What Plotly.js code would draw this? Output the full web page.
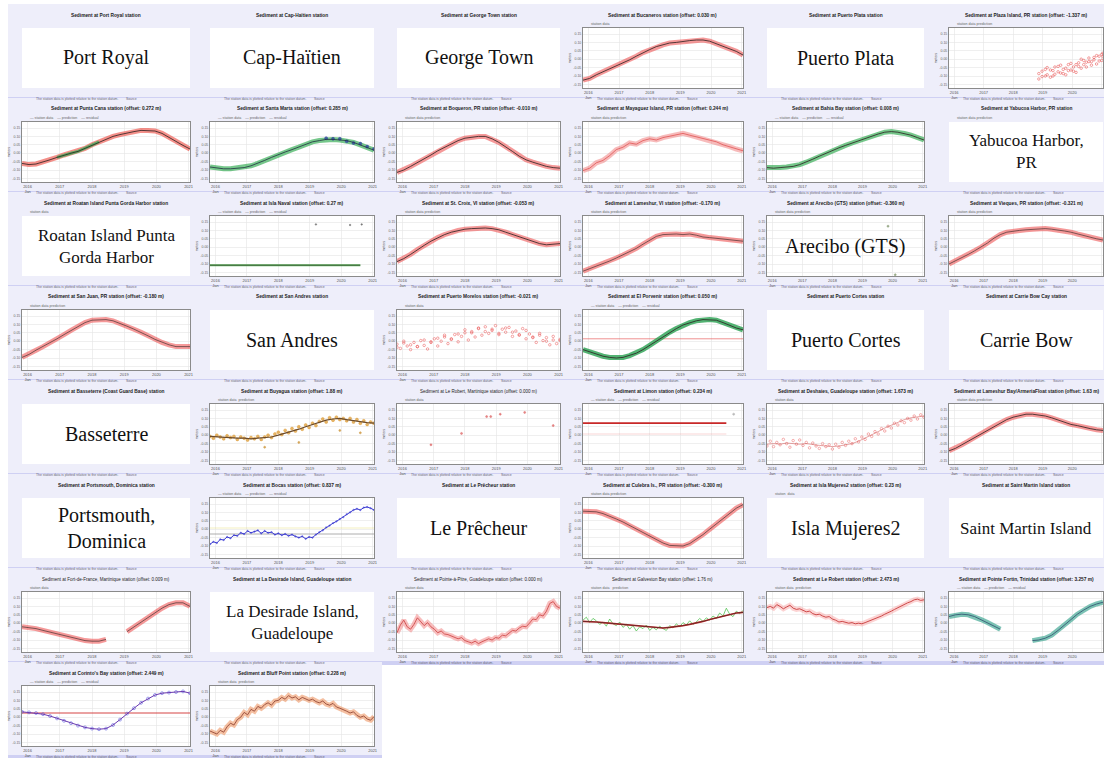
<!DOCTYPE html>
<html><head><meta charset="utf-8">
<script src="https://cdn.plot.ly/plotly-3.0.1.min.js"></script>
<style>html,body{margin:0;padding:0;background:#fff}#chart{width:1104px;height:758px}</style>
</head><body><div id="chart"></div>
<script>
const t25 = [0,1,2,3,4,5,6,7,8,9,10,11,12,13,14,15,16,17,18,19,20,21,22,23,24];
const t49 = [0,0.5,1,1.5,2,2.5,3,3.5,4,4.5,5,5.5,6,6.5,7,7.5,8,8.5,9,9.5,10,10.5,11,11.5,12,12.5,13,13.5,14,14.5,15,15.5,16,16.5,17,17.5,18,18.5,19,19.5,20,20.5,21,21.5,22,22.5,23,23.5,24];
const xTickLabels = ['2016<br>Jan','2017','2018','2019','2020','2021'];
const yTickLabels = ['-0.15','-0.10','-0.05','0.00','0.05','0.10','0.15'];

const bucanerosY = [1.3,1.6,2.2,2.7,3.1,3.7,4.2,4.7,5.3,5.9,6.4,6.9,7.2,7.5,7.6,7.8,7.9,8.0,8.0,7.8,7.4,7.0,6.6,6.1,5.5];
const plazaX = [14,14.5,15,15.3,15.8,16.2,16.5,17,17.4,17.8,18.2,18.6,19,19.4,19.8,20.2,20.6,21,21.4,21.8,22.2,22.6,23,23.4,23.8,24];
const plazaY = [1.5,2.8,2.0,3.4,1.8,2.9,2.3,3.6,2.5,3.1,2.2,3.9,3.0,3.5,2.6,4.2,3.3,4.6,3.5,4.4,3.8,5.1,4.0,5.3,4.6,5.8];
const plazaY2 = [2.4,1.9,3.1,2.2,3.0,2.0,3.5,2.7,3.8,2.4,3.3,2.9,4.1,2.8,3.9,3.6,4.8,3.9,4.3,5.0,4.4,4.7,5.4,4.5,5.6,5.2];

const puntaCanaY = [3.1,2.9,3.0,3.3,3.7,4.1,4.5,4.8,5.1,5.6,6.2,6.7,7.2,7.6,7.9,8.2,8.4,8.6,8.6,8.5,8.1,7.4,6.8,6.1,5.5];
const puntaGreenX = [5,6,7,8,9,10,11];
const puntaGreenY = [4.1,4.5,4.8,5.1,5.6,6.2,6.7];
const santaMartaY = [2.5,2.3,2.2,2.2,2.3,2.4,2.7,3.1,3.6,4.1,4.6,5.0,5.4,5.8,6.3,6.7,6.9,7.1,7.1,7.0,6.9,6.6,6.2,5.8,5.3];
const santaMartaBlueX = [17,18,19,20,21,22,23,24];
const santaMartaBlueY = [7.3,7.2,7.2,6.8,6.5,6.4,5.9,5.5];
const boqueronY = [1.6,2.0,2.6,3.2,3.8,4.5,5.2,5.8,6.4,6.9,7.3,7.5,7.6,7.6,7.2,6.6,5.9,5.1,4.3,3.7,3.3,2.9,2.6,2.4,2.3];
const mayaguezY = [1.9,2.3,3.2,3.6,4.4,5.4,5.8,6.5,6.3,6.9,7.2,7.0,7.4,7.6,7.9,8.1,7.8,7.5,7.2,6.9,6.7,6.2,5.9,5.5,5.2];
const bahiaY = [2.4,2.3,2.4,2.5,2.6,2.9,3.3,3.8,4.3,4.8,5.3,5.7,6.1,6.5,6.9,7.3,7.7,8.0,8.3,8.4,8.3,8.1,7.8,7.4,7.0];

const islaNavalY = [1.8,1.8,1.8,1.8,1.8,1.8,1.8,1.8,1.8,1.8,1.8,1.8,1.8,1.8,1.8,1.8,1.8,1.8,1.8,1.8,1.8,1.8,1.8];
const islaNavalX = [0,1,2,3,4,5,6,7,8,9,10,11,12,13,14,15,16,17,18,19,20,21,22];
const islaNavalOutX = [15.5,20.5,22.2];
const islaNavalOutY = [8.6,8.5,8.6];
const stCroixY = [2.4,2.9,3.6,4.4,5.1,5.8,6.4,6.9,7.3,7.6,7.8,7.9,8.0,8.0,7.9,7.7,7.3,6.9,6.5,6.1,5.7,5.4,5.2,5.3,5.4];
const lameshurY = [0.8,1.2,1.6,2.1,2.5,3.0,3.5,4.0,4.6,5.3,6.0,6.6,6.9,7.0,7.0,6.9,7.0,6.8,6.5,6.4,6.3,6.2,6.0,5.9,5.8];
const areciboX = [18.5,19.6];
const areciboY = [8.3,0.2];
const viequesY = [2.0,2.5,3.1,3.6,4.2,4.8,5.5,6.3,6.9,7.3,7.5,7.6,7.7,7.8,7.9,7.9,7.8,7.7,7.5,7.3,7.0,6.8,6.5,6.2,6.0];

const sanJuanY = [2.1,2.6,3.3,3.9,4.5,5.2,5.9,6.6,7.3,7.9,8.3,8.4,8.4,8.2,7.8,7.3,6.8,6.3,5.7,5.1,4.6,4.2,3.9,3.9,3.9];
const morelosY = [4.3,3.6,4.8,4.0,3.4,4.6,3.9,4.9,4.1,3.5,4.7,5.2,4.0,4.8,5.5,4.4,5.1,5.9,4.7,5.6,6.2,5.0,6.4,5.5,6.9,5.8,7.2,6.1,6.6,7.4,5.9,6.8,6.3,7.1,5.6,6.5,5.8,6.9,5.2,6.0,5.5,4.6,5.8,4.9,5.4,4.2,5.0,4.4,5.1];
const morelosY2 = [3.8,4.5,4.2,3.9,5.0,4.6,5.3,5.8,5.2,6.0,6.7,6.2,7.0,6.4,6.8,6.1,7.0,6.3,5.9,6.6,5.4,6.1,4.8,5.6,4.9];
const porvenirY = [3.4,3.0,2.6,2.3,2.1,2.0,2.1,2.4,2.8,3.4,4.1,4.9,5.6,6.3,6.9,7.5,7.9,8.2,8.4,8.4,8.3,7.9,7.4,7.0,6.7];
const porvenirRefX = [0,24];
const porvenirRefY = [5.2,5.2];

const buyaguaY = [4.6,4.3,4.8,4.5,4.2,4.7,4.4,4.6,4.1,4.5,4.3,4.0,4.4,4.2,4.6,4.1,4.5,4.8,4.4,5.0,5.3,4.9,5.6,5.2,5.9,5.5,6.2,5.8,6.5,6.1,6.8,6.4,7.1,7.5,7.0,7.7,7.3,7.8,7.4,7.6,7.2,7.6,7.0,7.4,6.8,7.2,6.6,7.0,6.8];
const buyaguaLineY = [4.6,4.5,4.5,4.4,4.3,4.3,4.2,4.3,4.4,4.5,4.8,5.1,5.4,5.8,6.2,6.6,7.0,7.3,7.5,7.6,7.4,7.2,7.0,6.9,6.8];
const buyaguaOutX = [8,13,19,22];
const buyaguaOutY = [2.8,3.6,5.6,5.2];
const sparseX = [5,9.5,13.2,13.8,15.2,18.8,23];
const sparseY = [3.2,5.1,7.9,7.9,8.3,8.6,6.4];
const limonX = [0,21.5];
const limonY = [6.8,6.8];
const limonFaintY = [5.0,5.0];
const limonDotX = [22.6];
const limonDotY = [8.3];
const deshaiesY = [3.0,3.8,2.9,3.6,3.2,4.1,3.4,2.8,3.9,3.3,4.0,3.1,3.6,2.7,3.5,3.0,2.6,3.4,2.9,3.2,2.5,3.3,2.8,3.6,3.1,3.8,3.4,4.2,3.7,4.5,4.1,5.0,4.6,5.4,5.0,5.9,5.5,6.3,6.0,6.8,6.5,7.2,6.9,7.6,7.3,8.0,7.5,8.2,7.8];
const deshaiesLineY = [3.3,3.4,3.3,3.5,3.4,3.3,3.4,3.2,3.1,3.0,2.9,3.0,3.2,3.4,3.8,4.3,4.8,5.4,6.0,6.5,7.0,7.4,7.7,7.9,8.0];
const lameshurBayY = [2.2,2.6,3.2,3.8,4.5,5.1,5.7,6.3,6.9,7.4,7.8,8.1,8.3,8.3,8.2,8.0,7.7,7.3,6.9,6.6,6.4,6.1,5.9,5.7,5.6];

const bocasY = [2.3,2.7,2.5,3.1,3.0,3.5,3.3,3.8,3.7,4.2,4.0,4.5,4.2,4.4,4.6,4.1,4.5,4.2,4.3,3.9,4.1,3.8,4.0,3.7,3.9,3.6,3.4,3.6,3.2,3.5,3.4,3.9,4.3,4.6,5.1,5.4,5.8,6.1,6.5,6.8,7.3,7.6,8.0,8.2,8.0,8.4,8.5,8.3,8.0];
const bocasRefY = [4.0,4.0];
const bocasYellowY = [5.0,5.0];
const culebraY = [7.8,7.8,7.7,7.4,7.0,6.5,6.0,5.4,4.8,4.2,3.6,3.0,2.5,2.1,2.0,2.0,2.4,3.1,3.9,4.8,5.7,6.6,7.5,8.3,8.9];

const fortY = [4.2,4.1,3.9,3.6,3.3,3.0,2.7,2.4,2.1,1.9,1.8,1.8,2.1,null,null,3.4,4.2,5.0,5.8,6.6,7.3,7.9,8.2,8.2,7.6];
const pointeY = [3.2,4.5,5.3,4.2,3.8,4.6,5.7,5.1,4.4,4.9,4.2,3.8,3.2,3.5,3.0,2.9,2.7,2.4,2.2,2.4,1.9,1.7,1.5,1.8,1.4,1.7,1.9,2.2,2.0,2.4,2.3,2.8,2.7,3.2,3.6,3.5,4.0,4.3,4.2,4.8,5.5,5.4,6.2,6.0,6.8,8.1,8.4,7.6,7.3];
const galvestonY = [5.1,5.1,5.0,4.9,4.8,4.7,4.6,4.5,4.4,4.2,4.1,4.0,4.0,4.1,4.2,4.4,4.6,4.8,5.1,5.4,5.7,6.0,6.3,6.5,6.6];
const galvestonGreenY = [5.3,5.8,4.9,5.6,5.2,4.6,5.0,4.3,5.5,4.7,4.4,5.0,4.1,4.6,3.8,4.4,3.5,4.2,3.9,4.5,3.6,4.1,3.7,4.3,3.9,3.6,4.4,4.0,4.7,4.2,4.9,4.5,5.2,4.6,5.0,5.6,5.1,5.7,5.3,6.0,5.6,6.5,6.0,7.3,6.3,5.9,6.8,6.4,6.9];
const leRobertY = [7.4,7.6,7.3,7.9,7.6,7.2,7.5,7.8,7.3,7.1,7.2,6.9,6.7,6.8,6.4,6.2,6.3,6.0,5.8,5.9,5.5,5.3,5.0,5.1,4.9,4.8,4.9,4.7,4.8,4.7,4.9,5.1,5.3,5.5,5.8,6.0,6.3,6.5,6.8,7.1,7.4,7.7,7.9,8.2,8.4,8.7,8.8,8.6,8.7];
const fortinY = [5.9,6.2,6.3,6.2,5.9,5.4,4.9,4.3,3.8,null,null,null,null,1.9,2.0,2.3,2.8,3.6,4.5,5.4,6.3,7.0,7.6,8.0,8.3];

const corintoY = [5.7,5.6,5.5,5.3,5.0,4.6,4.2,3.8,3.4,3.1,2.9,2.8,2.9,3.5,4.4,5.4,6.3,7.2,7.9,8.5,8.8,8.9,9.0,9.1,8.8];
const corintoRefY = [5.5,5.5];
const bluffY = [2.5,2.2,2.0,2.6,2.3,3.2,3.8,3.5,4.4,4.8,5.6,5.2,6.1,5.8,6.6,6.3,6.9,7.2,6.8,7.5,7.6,8.1,7.8,8.4,8.0,8.2,7.7,8.1,7.9,7.6,7.8,7.4,7.2,7.5,7.0,6.8,7.1,6.5,6.3,6.1,5.8,5.5,5.7,5.1,4.8,5.0,4.5,4.3,4.9];

// ---------- STYLE HELPERS ----------
function band(x,y,c){return {x:x,y:y,mode:'lines',line:{color:c,width:5},connectgaps:false};}
function line(x,y,c,w){return {x:x,y:y,mode:'lines',line:{color:c,width:w||0.8},connectgaps:false};}
function pts(x,y,c,s,sym){return {x:x,y:y,mode:'markers',marker:{color:c,size:s||2.5,symbol:sym||'circle',line:{color:c,width:0.6}}};}
const RED='rgba(236,70,70,0.55)', GRN='rgba(60,175,90,0.7)', BLK='#2a2020';
const LEG='— station data    — prediction    — residual';
const SERIF='Liberation Serif';

const panels = [
 {title:'Sediment at Port Royal station', label:'Port Royal'},
 {title:'Sediment at Cap-Haïtien station', label:'Cap-Haïtien'},
 {title:'Sediment at George Town station', label:'George Town'},
 {title:'Sediment at Bucaneros station (offset: 0.030 m)', legend:'station data', traces:[band(t25,bucanerosY,RED),line(t25,bucanerosY,BLK)]},
 {title:'Sediment at Puerto Plata station', label:'Puerto Plata'},
 {title:'Sediment at Plaza Island, PR station (offset: -1.337 m)', legend:'station data prediction', traces:[pts(plazaX,plazaY,'rgba(230,60,60,0.8)',2.5,'circle-open'),pts(plazaX,plazaY2,'rgba(230,60,60,0.8)',2.5,'circle-open')]},

 {title:'Sediment at Punta Cana station (offset: 0.272 m)', legend:LEG, traces:[band(t25,puntaCanaY,'rgba(236,70,60,0.6)'),line(puntaGreenX,puntaGreenY,'rgba(60,175,90,0.8)',3),line(t25,puntaCanaY,BLK)]},
 {title:'Sediment at Santa Marta station (offset: 0.285 m)', legend:LEG, traces:[band(t25,santaMartaY,GRN),pts(santaMartaBlueX,santaMartaBlueY,'rgba(50,70,160,0.8)',3),line(t25,santaMartaY,'#203040')]},
 {title:'Sediment at Boqueron, PR station (offset: -0.010 m)', legend:'station data prediction', traces:[band(t25,boqueronY,RED),line(t25,boqueronY,BLK)]},
 {title:'Sediment at Mayaguez Island, PR station (offset: 0.244 m)', legend:'station data prediction', traces:[band(t25,mayaguezY,'rgba(240,120,120,0.5)'),line(t25,mayaguezY,'rgba(220,60,60,0.8)',0.8)]},
 {title:'Sediment at Bahia Bay station (offset: 0.008 m)', legend:LEG, traces:[band(t25,bahiaY,GRN),line(t25,bahiaY,BLK)]},
 {title:'Sediment at Yabucoa Harbor, PR station', legend:'station data prediction', label:'Yabucoa Harbor,<br>PR', small:true},

 {title:'Sediment at Roatan Island Punta Gorda Harbor station', legend:'station data', label:'Roatan Island Punta<br>Gorda Harbor', small:true},
 {title:'Sediment at Isla Naval station (offset: 0.27 m)', legend:LEG, traces:[line(islaNavalX,islaNavalY,'rgba(80,180,80,0.9)',2),line(islaNavalX,islaNavalY,BLK,0.6),pts(islaNavalOutX,islaNavalOutY,'#777',1.5)]},
 {title:'Sediment at St. Croix, VI station (offset: -0.053 m)', legend:'station data prediction', traces:[band(t25,stCroixY,RED),line(t25,stCroixY,BLK)]},
 {title:'Sediment at Lameshur, VI station (offset: -0.170 m)', legend:'station data prediction', traces:[band(t25,lameshurY,RED),line(t25,lameshurY,BLK,0.6)]},
 {title:'Sediment at Arecibo (GTS) station (offset: -0.360 m)', legend:'station data prediction', label:'Arecibo (GTS)', traces:[pts(areciboX,areciboY,'#9a8',2)]},
 {title:'Sediment at Vieques, PR station (offset: -0.321 m)', legend:'station data prediction', traces:[band(t25,viequesY,RED),line(t25,viequesY,BLK,0.6)]},

 {title:'Sediment at San Juan, PR station (offset: -0.180 m)', legend:'station data prediction', traces:[band(t25,sanJuanY,RED),line(t25,sanJuanY,BLK,0.6)]},
 {title:'Sediment at San Andres station', label:'San Andres'},
 {title:'Sediment at Puerto Morelos station (offset: -0.021 m)', legend:'station data', traces:[pts(t49,morelosY,'rgba(230,60,60,0.75)',2.5,'circle-open'),pts(t25,morelosY2,'rgba(230,60,60,0.75)',2.5,'circle-open')]},
 {title:'Sediment at El Porvenir station (offset: 0.050 m)', legend:LEG, traces:[line(porvenirRefX,porvenirRefY,'rgba(230,80,80,0.8)',0.8),band(t25,porvenirY,'rgba(40,160,80,0.8)'),line(t25,porvenirY,BLK)]},
 {title:'Sediment at Puerto Cortes station', label:'Puerto Cortes'},
 {title:'Sediment at Carrie Bow Cay station', label:'Carrie Bow'},

 {title:'Sediment at Basseterre (Coast Guard Base) station', label:'Basseterre'},
 {title:'Sediment at Buyagua station (offset: 1.88 m)', legend:'station data  prediction', traces:[pts(t49,buyaguaY,'rgba(220,150,40,0.7)',3),pts(buyaguaOutX,buyaguaOutY,'rgba(200,140,40,0.7)',2),line(t25,buyaguaLineY,'#6b4a2a',1.2)]},
 {title:'Sediment at Le Robert, Martinique station (offset: 0.000 m)', plain:true, legend:'station data', traces:[pts(sparseX,sparseY,'rgba(220,90,90,0.7)',2)]},
 {title:'Sediment at Limon station (offset: 0.234 m)', legend:LEG, traces:[line(limonX,limonFaintY,'rgba(240,150,150,0.5)',0.8),line(limonX,limonY,'#c82828',1.8),pts(limonDotX,limonDotY,'#bbb',2)]},
 {title:'Sediment at Deshaies, Guadeloupe station (offset: 1.673 m)', legend:'station data', traces:[pts(t49,deshaiesY,'rgba(230,70,70,0.7)',2.5,'circle-open'),line(t25,deshaiesLineY,'rgba(200,60,60,0.6)',0.8)]},
 {title:'Sediment at Lameshur Bay/ArmeriaFloat station (offset: 1.63 m)', legend:'station data prediction', traces:[band(t25,lameshurBayY,RED),line(t25,lameshurBayY,BLK)]},

 {title:'Sediment at Portsmouth, Dominica station', label:'Portsmouth,<br>Dominica'},
 {title:'Sediment at Bocas station (offset: 0.837 m)', legend:LEG, traces:[line([0,24],bocasYellowY,'rgba(230,220,120,0.6)',0.8),line([0,24],bocasRefY,'#999',0.8),pts(t49,bocasY,'rgba(70,70,220,0.6)',1.6),line(t49,bocasY,'#3a3ad0',1)]},
 {title:'Sediment at Le Prêcheur station', label:'Le Prêcheur'},
 {title:'Sediment at Culebra Is., PR station (offset: -0.300 m)', legend:'station data prediction', traces:[band(t25,culebraY,RED),line(t25,culebraY,BLK,0.6)]},
 {title:'Sediment at Isla Mujeres2 station (offset: 0.23 m)', legend:'station  data', label:'Isla Mujeres2'},
 {title:'Sediment at Saint Martin Island station', label:'Saint Martin Island', small:true},

 {title:'Sediment at Fort-de-France, Martinique station (offset: 0.009 m)', plain:true, legend:'station data', traces:[band(t25,fortY,RED),line(t25,fortY,BLK,0.6)]},
 {title:'Sediment at La Desirade Island, Guadeloupe station', label:'La Desirade Island,<br>Guadeloupe', small:true},
 {title:'Sediment at Pointe-à-Pitre, Guadeloupe station (offset: 0.000 m)', plain:true, legend:'station data', traces:[band(t49,pointeY,'rgba(240,110,110,0.45)'),line(t49,pointeY,'rgba(200,50,50,0.9)',0.8)]},
 {title:'Sediment at Galveston Bay station (offset: 1.76 m)', plain:true, legend:'station data   prediction', traces:[line(t49,galvestonGreenY,'rgba(70,190,70,0.9)',0.8),line(t25,galvestonY,'#d03030',1.6),line(t25,galvestonY,BLK,0.6)]},
 {title:'Sediment at Le Robert station (offset: 2.473 m)', legend:'station data  prediction', traces:[band(t49,leRobertY,'rgba(245,130,130,0.35)'),line(t49,leRobertY,'#c83a3a',0.9)]},
 {title:'Sediment at Pointe Fortin, Trinidad station (offset: 3.257 m)', legend:LEG, traces:[band(t25,fortinY,'rgba(70,170,150,0.7)'),line(t25,fortinY,'#2f4f6f',0.8)]},

 {title:"Sediment at Corinto's Bay station (offset: 2.449 m)", legend:LEG, traces:[line([0,24],corintoRefY,'#d03030',0.9),pts(t25,corintoY,'rgba(70,70,220,0.8)',3,'circle-open'),line(t25,corintoY,'#6a3ab0',1)]},
 {title:'Sediment at Bluff Point station (offset: 0.228 m)', legend:'station data  prediction', traces:[band(t49,bluffY,'rgba(235,130,70,0.5)'),line(t49,bluffY,'#8a3a2a',0.8)]}
];

// ---------- LAYOUT ----------
const W=1104, H=758;
const colL=[22,210,397,583,767,949], colR=[190,374,560,743,924,1103];
const px = v => v/W, py = v => 1 - v/H;
const layout = {width:W, height:H, margin:{l:0,r:0,t:0,b:0}, paper_bgcolor:'#ffffff', plot_bgcolor:'rgba(0,0,0,0)',
  showlegend:false, hovermode:false, font:{family:'Liberation Sans, Arial, sans-serif', size:5, color:'#333'}, shapes:[], annotations:[]};
const traces = [];

for (let r=0;r<8;r++){
  const T=28+94*r, B=88+94*r;
  const right = r===7 ? 382 : W;
  layout.shapes.push({type:'rect',xref:'paper',yref:'paper',x0:px(8),x1:px(right),y0:py(B+10),y1:py(T-24),fillcolor:'#eeeefa',line:{width:0},layer:'below'});
  layout.shapes.push({type:'rect',xref:'paper',yref:'paper',x0:px(8),x1:px(right),y0:py(B+13),y1:py(B+9),fillcolor:'#cfd0f3',line:{width:0},layer:'below'});
}
const xTickVals=[0.8,5.4,10,14.6,19.2,23.8];
const yTickVals=[0.6,2.0,3.4,4.8,6.2,7.6,9.0];

panels.forEach((p,i)=>{
  const r=Math.floor(i/6), c=i%6;
  const T=28+94*r, B=88+94*r, L=colL[c], R=colR[c];
  const n = i===0 ? '' : String(i+1);
  layout.shapes.push({type:'rect',xref:'paper',yref:'paper',x0:px(L),x1:px(R),y0:py(B),y1:py(T),fillcolor:'#ffffff',line:{width:0},layer:'below'});
  layout['xaxis'+n] = {domain:[px(L),px(R)], anchor:'y'+n, range:[0,24], fixedrange:true,
    showline:true, mirror:true, linecolor:'#8a8a8a', linewidth:1, showgrid:true, gridcolor:'#e4e4e4', gridwidth:0.6, zeroline:false,
    tickvals:xTickVals, ticktext:xTickLabels, tickfont:{size:4, color:'#555'}, ticks:'', ticklen:0};
  layout['yaxis'+n] = {domain:[py(B),py(T)], anchor:'x'+n, range:[0,10], fixedrange:true,
    showline:true, mirror:true, linecolor:'#8a8a8a', linewidth:1, showgrid:true, gridcolor:'#e4e4e4', gridwidth:0.6, zeroline:false,
    tickvals:yTickVals, ticktext:yTickLabels, tickfont:{size:3.5, color:'#666'}, ticks:'',
    title:{text:'meters', font:{size:3.5, color:'#555'}, standoff:2}};
  const cx = px((L+R)/2);
  layout.annotations.push({xref:'paper',yref:'paper',x:cx,y:py(T-13),xanchor:'center',yanchor:'middle',showarrow:false,
    text: p.plain ? p.title : '<b>'+p.title+'</b>', font:{size:p.plain?4.5:4.8, color:'#222'}});
  if (p.legend) layout.annotations.push({xref:'paper',yref:'paper',x:px(L+6),y:py(T-4),xanchor:'left',yanchor:'middle',showarrow:false,
    text:p.legend, font:{size:3.6, color:'#666'}});
  layout.annotations.push({xref:'paper',yref:'paper',x:px(L+12),y:py(B+11),xanchor:'left',yanchor:'middle',showarrow:false,
    text:'The station data is plotted relative to the station datum.        Source', font:{size:3.4, color:'#667'}});
  if (p.label) layout.annotations.push({xref:'paper',yref:'paper',x:cx,y:py((T+B)/2),xanchor:'center',yanchor:'middle',showarrow:false,
    text:p.label, font:{family:SERIF, size:p.small?17:20, color:'#111'}});
  (p.traces||[]).forEach(tr=>{ tr.xaxis='x'+n; tr.yaxis='y'+n; tr.hoverinfo='skip'; traces.push(tr); });
});

Plotly.newPlot('chart', traces, layout, {staticPlot:true, displayModeBar:false});
</script>
</body></html>
